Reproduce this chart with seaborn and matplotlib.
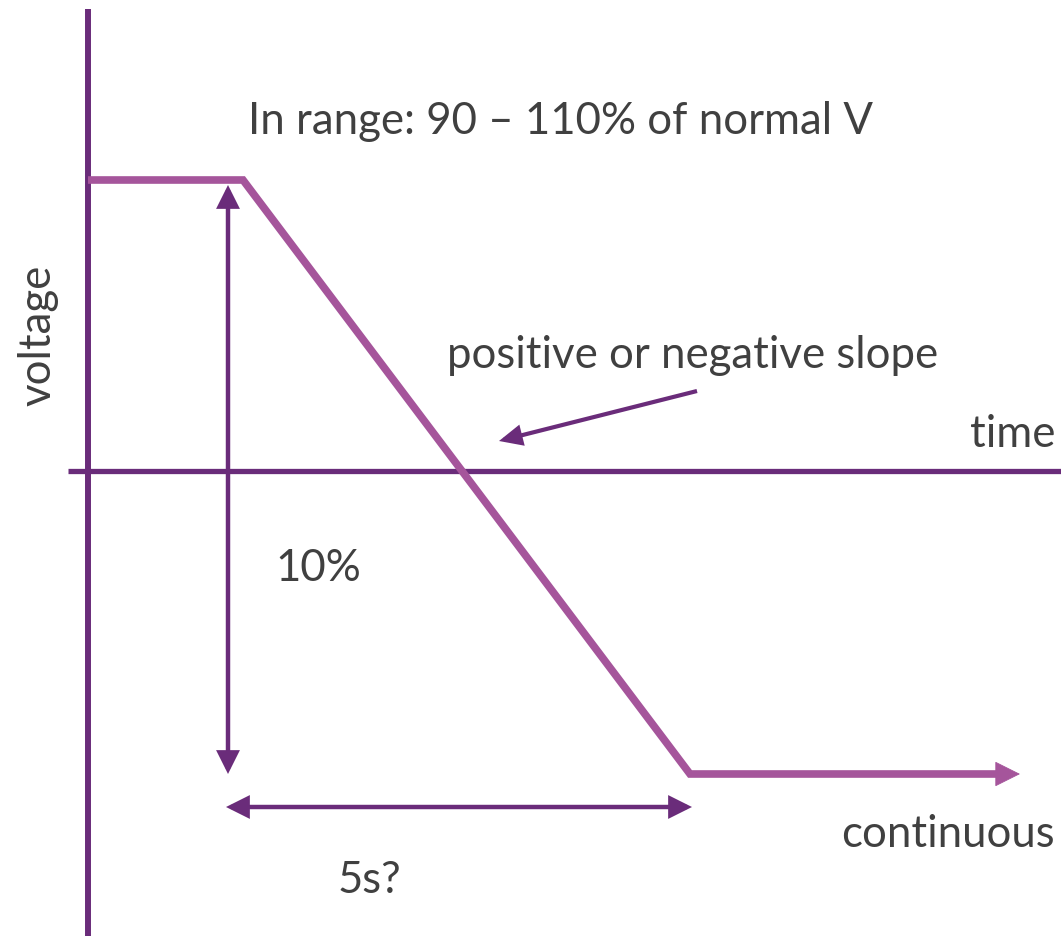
import matplotlib
matplotlib.use("Agg")
import matplotlib.pyplot as plt
import seaborn as sns
import pandas as pd

# diagram coordinates (pixels of the 1061x937 canvas, y grows downward)
wave_x = [88, 243, 690, 1000]
wave_y = [181, 181, 775, 775]
wave_end = (1020, 775)

axis_v_x = 88
axis_v_y = [10, 937]
axis_h_y = 472
axis_h_x = [68, 1061]

span_v = (228, 186, 775)      # x, top, bottom
span_h = (808, 226, 692)      # y, left, right
slope_arrow = [(697, 392), (499, 442)]

labels = ["In range: 90 – 110% of normal V", "positive or negative slope", "time",
          "10%", "5s?", "continuous"]
label_pos = [(248, 121), (447, 356), (1055, 435), (275, 569), (338, 881), (1055, 835)]
label_ha = ["left", "left", "right", "left", "left", "right"]

dark = "#6A2C7A"
light = "#A5559B"
grey = "#404040"

sns.set_style("white")
plt.rcParams["font.family"] = ["Lato", "DejaVu Sans"]

fig = plt.figure(figsize=(10.61, 9.37), dpi=100)
ax = fig.add_axes([0, 0, 1, 1])
ax.set_xlim(0, 1061)
ax.set_ylim(937, 0)
ax.axis("off")

# axes of the diagram
ax.plot([axis_v_x, axis_v_x], axis_v_y, color=dark, lw=4.3, solid_capstyle="butt")
ax.plot(axis_h_x, [axis_h_y, axis_h_y], color=dark, lw=3.8, solid_capstyle="butt")

# waveform
df = pd.DataFrame({"t": wave_x, "v": wave_y})
sns.lineplot(data=df, x="t", y="v", sort=False, color=light, lw=5.5, ax=ax)
ax.lines[-1].set_solid_joinstyle("miter")
ax.lines[-1].set_solid_capstyle("butt")
ax.annotate("", xy=wave_end, xytext=(wave_x[-1] - 80, wave_y[-1]),
            arrowprops=dict(arrowstyle="-|>,head_length=1.3,head_width=0.65",
                            mutation_scale=13, color=light, lw=0.5, shrinkA=0, shrinkB=0,
                            joinstyle="miter", capstyle="butt"))

# dimension arrows
arr = dict(arrowstyle="<|-|>,head_length=1.2,head_width=0.6", color=dark, lw=3.2,
           shrinkA=0, shrinkB=0, joinstyle="miter", capstyle="butt")
ax.annotate("", xy=(span_v[0], span_v[1]), xytext=(span_v[0], span_v[2]), arrowprops=arr)
ax.annotate("", xy=(span_h[1], span_h[0]), xytext=(span_h[2], span_h[0]), arrowprops=arr)
ax.annotate("", xy=slope_arrow[1], xytext=slope_arrow[0],
            arrowprops=dict(arrowstyle="-|>,head_length=1.2,head_width=0.55", color=dark,
                            lw=3, shrinkA=0, shrinkB=0, joinstyle="miter", capstyle="butt"))

for txt, (x, y), ha in zip(labels, label_pos, label_ha):
    ax.text(x, y, txt, ha=ha, va="center", fontsize=31.5, color=grey)

ax.text(38, 335, "voltage", rotation=90, ha="center", va="center", fontsize=31.5, color=grey)

fig.savefig("out.png", dpi=100)
